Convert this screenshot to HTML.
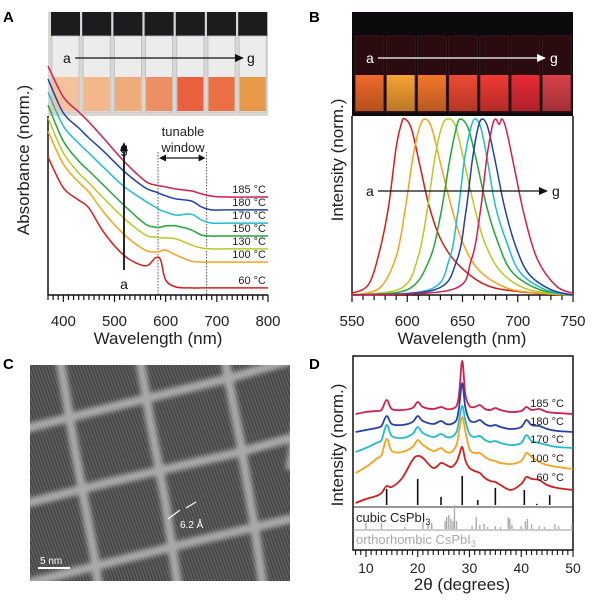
<!DOCTYPE html>
<html><head><meta charset="utf-8">
<style>
body{margin:0;background:#fff;}
svg{display:block;font-family:"Liberation Sans",Arial,sans-serif;}
</style></head>
<body>
<svg id="fig" width="600" height="600" viewBox="0 0 600 600">
<defs>
<filter id="blur2"><feGaussianBlur stdDeviation="2.5"/></filter>
<filter id="blur1"><feGaussianBlur stdDeviation="1"/></filter>
<pattern id="lattice" width="3" height="3" patternUnits="userSpaceOnUse" patternTransform="rotate(-20)">
<rect width="3" height="3" fill="#444"/><rect width="1.5" height="3" fill="#606060"/>
</pattern>
<linearGradient id="glowA" x1="0" x2="0" y1="0" y2="1"><stop offset="0" stop-color="#000" stop-opacity="0"/><stop offset="1" stop-color="#000" stop-opacity="0.25"/></linearGradient>
</defs>

<text x="3" y="22" font-size="15" font-weight="bold">A</text>
<text x="309" y="22" font-size="15" font-weight="bold">B</text>
<text x="3" y="369" font-size="15" font-weight="bold">C</text>
<text x="309" y="369" font-size="15" font-weight="bold">D</text>

<g id="photoA">
<rect x="48" y="12" width="220" height="104" fill="#d9d7d2"/>
</g>
<g id="photoB">
<rect x="352" y="12" width="221" height="104" fill="#0c0a0c"/>
</g>

<g id="panelA"></g>
<g id="panelB"></g>

<g id="panelC">
<clipPath id="clipC"><rect x="30" y="365" width="260" height="216"/></clipPath>
<g clip-path="url(#clipC)">
<rect x="30" y="365" width="260" height="216" fill="url(#lattice)"/>
<g id="temGrid" stroke="#c0c0c0" stroke-width="9" fill="none" filter="url(#blur2)" opacity="0.8"></g>
</g>
<line x1="38" y1="568" x2="70" y2="568" stroke="#fff" stroke-width="2"/>
<text x="40" y="564" font-size="10" fill="#fff">5 nm</text>
<line x1="168" y1="519" x2="180" y2="510" stroke="#fff" stroke-width="1.2"/>
<line x1="186" y1="508" x2="196" y2="502" stroke="#fff" stroke-width="1.2"/>
<text x="180" y="528" font-size="10" fill="#fff">6.2 Å</text>
</g>

<g id="panelD"></g>
</svg>

<script>
// ---------------- Panel A data ----------------
const absWl = [370,400,430,450,480,520,560,580,590,600,620,650,670,690,720,800];
const absLabels = ["185 °C","180 °C","170 °C","150 °C","130 °C","100 °C","60 °C"];
const absColors = ["#d11f4f","#2340a8","#1fbccc","#22a63a","#b8c924","#f7a21b","#d0201e"];
const absBaseline = [41.7,36.2,30.6,25.1,19.6,14.0,3.0];
const abs185 = [55.7,42.6,36.2,31.9,24.7,14.9,6.8,5.1,4.7,4.3,3.4,2.6,1.3,0.4,0,0];
const abs180 = [55.7,41.3,34.9,30.6,24.7,16.2,9.4,7.7,6.8,6.0,4.7,3.8,1.3,0,0,0];
const abs170 = [55.7,41.3,34.0,29.8,23.4,15.3,9.4,6.8,5.5,4.7,3.4,3.8,1.3,0,0,0];
const abs150 = [55.7,40.4,31.9,27.7,21.3,12.8,5.1,3.8,3.8,4.3,4.3,2.6,0.4,0,0,0];
const abs130 = [55.7,40.9,32.3,28.1,21.3,12.8,6.0,5.1,4.7,4.7,4.3,1.7,0.4,0,0,0];
const abs100 = [55.7,41.7,34.0,29.8,20.9,11.5,5.1,4.3,4.7,5.1,3.0,0.4,0,0,0,0];
const abs60  = [55.7,42.6,37.4,34.0,23.4,13.6,9.4,12.8,11.9,3.4,0.4,0,0,0,0,0];
const absSeries = [abs185,abs180,abs170,abs150,abs130,abs100,abs60];
const absTicks = [400,500,600,700,800];

// ---------------- Panel B data ----------------
const plColors = ["#d0201e","#f7a21b","#b8c924","#22a63a","#1fbccc","#2340a8","#d11f4f"];
const plRedWl = [550,565,575,583,590,595,598,604,612,620,630,645,670,700,750];
const plRedI  = [0.01,0.06,0.25,0.5,0.84,0.98,1,0.94,0.72,0.5,0.32,0.18,0.06,0.02,0];
const plOrWl = [550,575,590,598,605,611,616,622,630,640,650,665,690,720,750];
const plOrI  = [0,0.04,0.22,0.48,0.78,0.95,1,0.95,0.75,0.5,0.3,0.14,0.04,0.01,0];
const plYeWl = [550,595,610,618,625,631,636,643,650,660,670,685,710,750];
const plYeI  = [0,0.04,0.22,0.48,0.78,0.95,1,0.97,0.8,0.52,0.3,0.13,0.03,0];
const plGrWl = [550,600,620,630,638,644,648,655,662,672,682,695,720,750];
const plGrI  = [0,0.03,0.2,0.45,0.75,0.94,1,0.95,0.78,0.5,0.3,0.13,0.03,0];
const plCyWl = [550,620,638,646,652,658,662,667,673,680,690,702,725,750];
const plCyI  = [0,0.03,0.2,0.48,0.78,0.96,1,0.94,0.75,0.5,0.3,0.13,0.03,0];
const plBlWl = [550,625,645,653,659,664,668,673,680,688,698,710,730,750];
const plBlI  = [0,0.03,0.2,0.47,0.77,0.95,1,0.95,0.75,0.5,0.28,0.12,0.03,0];
const plCrWl = [550,640,658,666,672,677,680,683,686,690,697,706,718,735,750];
const plCrI  = [0,0.03,0.2,0.47,0.78,0.96,1,0.97,1,0.93,0.72,0.45,0.2,0.05,0.01];
const plTicks = [550,600,650,700,750];

// ---------------- Panel D data ----------------
const xrdTheta = [8,10,12,13,14,15,17,19,20,21,23,24.5,25.5,26.5,27.5,28,28.6,29.2,30,31,32,33,34,35,36,38,40,41,42,43.5,45,47,50];
const xrdLabels = ["185 °C","180 °C","170 °C","100 °C","60 °C"];
const xrdColors = ["#d11f4f","#2340a8","#1fbccc","#f7a21b","#d0201e"];
const xrdBaseline = [136,118,102,81,60];
const xrd185 = [0,2,3,4,14,5,4,6,12,7,5,7,5,5,8,20,53,20,8,7,9,5,4,6,4,2,3,7,4,5,2,1,0];
const xrd180 = [0,2,4,6,16,8,7,10,16,11,8,11,8,8,12,25,49,25,12,10,12,8,6,7,5,3,5,12,7,6,3,1,0];
const xrd170 = [-4,0,5,8,23,12,10,14,21,15,11,14,11,11,16,28,42,28,14,11,12,8,6,7,5,3,5,13,7,5,3,1,0];
const xrd100 = [-4,2,10,14,30,18,17,22,29,24,18,21,17,17,24,38,52,38,20,16,16,12,9,8,6,5,8,16,12,7,4,2,0];
const xrd60  = [-13,-9,-6,-3,4,3,12,30,34,32,22,27,25,23,28,35,43,30,22,19,17,12,9,8,5,0,6,13,11,10,5,2,0];
const xrdSeries = [xrd185,xrd180,xrd170,xrd100,xrd60];
const cubicPos = [14,20,24.5,28.6,31.6,35,40.6,43,45.5];
const cubicInt = [55,90,28,100,17,59,52,4,34];
const orthoPos = [10,13,17.5,21,22,22.7,25.3,25.6,26,26.4,26.8,27.1,27.5,30.5,31.3,32,32.8,33.5,35,36,37.5,37.8,38.2,40,40.8,41.2,42,43.5,44.5,46.5,47.2,49.8];
const orthoInt = [25,25,8,29,21,25,33,50,58,42,33,100,33,12,50,17,21,8,12,8,50,42,17,12,33,42,21,12,8,21,12,17];
const xrdTicks = [10,20,30,40,50];

// ---------------- helpers ----------------
const NS = "http://www.w3.org/2000/svg";
function mk(parent, tag, attrs){
  const e = document.createElementNS(NS, tag);
  for (const k in attrs) e.setAttribute(k, attrs[k]);
  parent.appendChild(e);
  return e;
}
function txt(parent, x, y, s, size, anchor, fill){
  const t = mk(parent,'text',{x:x,y:y,'font-size':size,'text-anchor':anchor||'start',fill:fill||'#222'});
  t.textContent = s;
  return t;
}
function smoothPath(pts){
  let d = "M"+pts[0][0].toFixed(1)+","+pts[0][1].toFixed(1);
  for (let i=0;i<pts.length-1;i++){
    const p0=pts[Math.max(i-1,0)], p1=pts[i], p2=pts[i+1], p3=pts[Math.min(i+2,pts.length-1)];
    const c1x=p1[0]+(p2[0]-p0[0])/6, c1y=p1[1]+(p2[1]-p0[1])/6;
    const c2x=p2[0]-(p3[0]-p1[0])/6, c2y=p2[1]-(p3[1]-p1[1])/6;
    d += " C"+c1x.toFixed(1)+","+c1y.toFixed(1)+" "+c2x.toFixed(1)+","+c2y.toFixed(1)+" "+p2[0].toFixed(1)+","+p2[1].toFixed(1);
  }
  return d;
}
function arrowHead(parent, x, y, dir, color){
  let pts = dir==='r' ? `${x},${y} ${x-9},${y-4} ${x-9},${y+4}` : `${x},${y} ${x-4},${y+9} ${x+4},${y+9}`;
  return mk(parent,'polygon',{points:pts,fill:color});
}

// ---------------- Photos ----------------
(function(){
  const pA = document.getElementById('photoA');
  const liqA = ["#f4c39c","#f2b88c","#f0ab7a","#ec9064","#e8603e","#ea7044","#e69a48"];
  for (let i=0;i<7;i++){
    const x = 50 + i*31.2;
    const cap = mk(pA,'rect',{x:x+1,y:12,width:29,height:24,fill:'#1c1c1e'});
    
    
    mk(pA,'rect',{x:x+2,y:36,width:27,height:76,fill:'#ebeceb',stroke:'#bdbdbd','stroke-width':0.8});
    const lq = mk(pA,'rect',{x:x+2.5,y:77,width:26,height:34,fill:liqA[i]});
    
    
  }
  mk(pA,'line',{x1:75,y1:58,x2:236,y2:58,stroke:'#111','stroke-width':1.3});
  arrowHead(pA,244,58,'r','#111');
  txt(pA,63,63,'a',14,'start','#111');
  txt(pA,247,63,'g',14,'start','#111');

  const pB = document.getElementById('photoB');
  const liqB = ["#f06a2a","#f7a133","#f4772a","#ee4a32","#ef3a34","#e82a36","#d8404a"];
  for (let i=0;i<7;i++){
    const x = 354 + i*31.2;
    mk(pB,'rect',{x:x+1,y:36,width:29,height:76,fill:'#2a0c10',stroke:'#502020','stroke-width':0.6});
    const lq = mk(pB,'rect',{x:x+1.5,y:75,width:28,height:36,fill:liqB[i]});
    
    
    mk(pB,'rect',{x:x+1.5,y:75,width:28,height:36,fill:'url(#glowA)'});
  }
  mk(pB,'line',{x1:378,y1:58,x2:538,y2:58,stroke:'#fff','stroke-width':1.3});
  arrowHead(pB,546,58,'r','#fff');
  txt(pB,366,63,'a',14,'start','#fff');
  txt(pB,550,63,'g',14,'start','#fff');
})();

// ---------------- Panel A ----------------
(function(){
  const g = document.getElementById('panelA');
  const x0=48,x1=268,yAxis=295;
  const xs = v => x0 + (v-370)/(800-370)*(x1-x0);
  const ys = v => yAxis - v*2.35;
  mk(g,'line',{x1:x0,y1:116,x2:x0,y2:yAxis,stroke:'#111','stroke-width':1.5});
  mk(g,'line',{x1:x0,y1:yAxis,x2:x1,y2:yAxis,stroke:'#111','stroke-width':1.5});
  for (let v=370; v<=800; v+=10){
    mk(g,'line',{x1:xs(v),y1:yAxis,x2:xs(v),y2:yAxis+(v%100===0?7:5),stroke:'#111','stroke-width':1.2});
  }
  absTicks.forEach(v=>{
    const t = txt(g,xs(v),326,String(v),15,'middle','#222');
    
    
  });
  const xt = txt(g,158,344,'Wavelength (nm)',17,'middle','#222');
  
  
  const yt = txt(g,0,0,'Absorbance (norm.)',17,'middle','#222');
  yt.setAttribute('transform','translate(29,160) rotate(-90)');
  
  
  [585,680].forEach(v=>{
    const l = mk(g,'line',{x1:xs(v),y1:152,x2:xs(v),y2:yAxis,stroke:'#555','stroke-width':1,'stroke-dasharray':'1.5,1.5'});
    
    
  });
  mk(g,'line',{x1:xs(585)+6,y1:158,x2:xs(680)-6,y2:158,stroke:'#111','stroke-width':1.2});
  mk(g,'polygon',{points:`${xs(585)+1},158 ${xs(585)+8},154.5 ${xs(585)+8},161.5`,fill:'#111'});
  mk(g,'polygon',{points:`${xs(680)-1},158 ${xs(680)-8},154.5 ${xs(680)-8},161.5`,fill:'#111'});
  txt(g,183,136,'tunable',13,'middle','#222');
  txt(g,183,152,'window',13,'middle','#222');
  absSeries.forEach((s,i)=>{
    const pts = s.map((v,j)=>[xs(absWl[j]), ys(v+absBaseline[i])]);
    const p = mk(g,'path',{d:smoothPath(pts),fill:'none',stroke:absColors[i],'stroke-width':1.5});
    
    
    const lb = txt(g,266,ys(absBaseline[i])-4,absLabels[i],11,'end','#222');
    
    
  });
  mk(g,'line',{x1:124,y1:270,x2:124,y2:150,stroke:'#111','stroke-width':1.8});
  arrowHead(g,124,142,'u','#111');
  txt(g,124,153,'g',14,'middle','#111');
  txt(g,124,289,'a',14,'middle','#111');
})();

// ---------------- Panel B ----------------
(function(){
  const g = document.getElementById('panelB');
  const x0=352,x1=573,yAxis=295;
  const xs = v => x0 + (v-550)/200*(x1-x0);
  const ys = v => yAxis - v*176;
  mk(g,'line',{x1:x0,y1:116,x2:x0,y2:yAxis,stroke:'#111','stroke-width':1.5});
  mk(g,'line',{x1:x1,y1:116,x2:x1,y2:yAxis,stroke:'#111','stroke-width':1.5});
  mk(g,'line',{x1:x0,y1:yAxis,x2:x1,y2:yAxis,stroke:'#111','stroke-width':1.5});
  for (let v=550; v<=750; v+=10){
    mk(g,'line',{x1:xs(v),y1:yAxis,x2:xs(v),y2:yAxis+(v%50===0?7:5),stroke:'#111','stroke-width':1.2});
  }
  plTicks.forEach(v=>{
    const t = txt(g,xs(v),326,String(v),15,'middle','#222');
    
    
  });
  const xt = txt(g,462,344,'Wavelength (nm)',17,'middle','#222');
  
  
  const yt = txt(g,0,0,'Intensity (norm.)',17,'middle','#222');
  yt.setAttribute('transform','translate(343,160) rotate(-90)');
  
  
  const sers = [[plRedWl,plRedI],[plOrWl,plOrI],[plYeWl,plYeI],[plGrWl,plGrI],[plCyWl,plCyI],[plBlWl,plBlI],[plCrWl,plCrI]];
  sers.forEach((s,i)=>{
    const pts = s[0].map((w,j)=>[xs(w), ys(s[1][j])]);
    const p = mk(g,'path',{d:smoothPath(pts),fill:'none',stroke:plColors[i],'stroke-width':1.5});
    
    
  });
  mk(g,'line',{x1:378,y1:191,x2:540,y2:191,stroke:'#111','stroke-width':1.3});
  arrowHead(g,548,191,'r','#111');
  txt(g,366,196,'a',14,'start','#111');
  txt(g,552,196,'g',14,'start','#111');
})();

// ---------------- Panel C grid ----------------
(function(){
  const g = document.getElementById('temGrid');
  const lines = [
    "M20,430 L120,405 L230,378 L320,352",
    "M20,505 L110,482 L240,452 L320,430",
    "M20,585 L100,565 L200,540 L320,512",
    "M60,360 L75,450 L95,560 L100,600",
    "M140,360 L150,420 L165,500 L180,600",
    "M225,360 L240,440 L255,530 L265,600",
    "M300,400 L290,470"
  ];
  lines.forEach(d=>{
    const p = mk(g,'path',{d:d});
    
    
  });
})();

// ---------------- Panel D ----------------
(function(){
  const g = document.getElementById('panelD');
  const x0=353,x1=573,yAxis=550,yTop=356;
  const xs = v => x0 + (v-7.5)/(50-7.5)*(x1-x0);
  const yBase = 550;
  const ys = v => yBase - v;
  mk(g,'rect',{x:x0,y:yTop,width:x1-x0,height:yAxis-yTop,fill:'none',stroke:'#111','stroke-width':1.5});
  mk(g,'line',{x1:x0,y1:507,x2:x1,y2:507,stroke:'#333','stroke-width':1});
  mk(g,'line',{x1:x0,y1:530,x2:x1,y2:530,stroke:'#999','stroke-width':1});
  for (let v=8; v<=50; v+=1){
    mk(g,'line',{x1:xs(v),y1:yAxis,x2:xs(v),y2:yAxis+(v%10===0?7:5),stroke:'#111','stroke-width':1.1});
  }
  xrdTicks.forEach(v=>{
    const t = txt(g,xs(v),573,String(v),14,'middle','#222');
    
    
  });
  const xt = txt(g,462,590,'2θ (degrees)',17,'middle','#222');
  
  
  const yt = txt(g,0,0,'Intensity (norm.)',17,'middle','#222');
  yt.setAttribute('transform','translate(343,445) rotate(-90)');
  
  
  cubicPos.forEach((p,i)=>{
    const l = mk(g,'line',{x1:xs(p),y1:505,x2:xs(p),y2:505-cubicInt[i]*0.29,stroke:'#111','stroke-width':1.6});
    
    
  });
  orthoPos.forEach((p,i)=>{
    const l = mk(g,'line',{x1:xs(p),y1:529,x2:xs(p),y2:529-orthoInt[i]*0.24,stroke:'#aaa','stroke-width':1.4});
    
    
  });
  const c1 = mk(g,'text',{x:356,y:522,'font-size':13,fill:'#222'});
  c1.innerHTML = 'cubic CsPbI<tspan font-size="9" dy="3">3</tspan>';
  
  
  const c2 = mk(g,'text',{x:356,y:544,'font-size':13,fill:'#aaa'});
  c2.innerHTML = 'orthorhombic CsPbI<tspan font-size="9" dy="3">3</tspan>';
  
  
  xrdSeries.forEach((s,i)=>{
    const pts = s.map((v,j)=>[xs(xrdTheta[j]), ys(v+xrdBaseline[i])]);
    const p = mk(g,'path',{d:smoothPath(pts),fill:'none',stroke:xrdColors[i],'stroke-width':1.8});
    
    
  });
  const lblY = [407,425,443,462,481];
  xrdLabels.forEach((s,i)=>{
    const lb = txt(g,564,lblY[i],s,11,'end','#222');
    
    
  });
})();
</script>
</body></html>
